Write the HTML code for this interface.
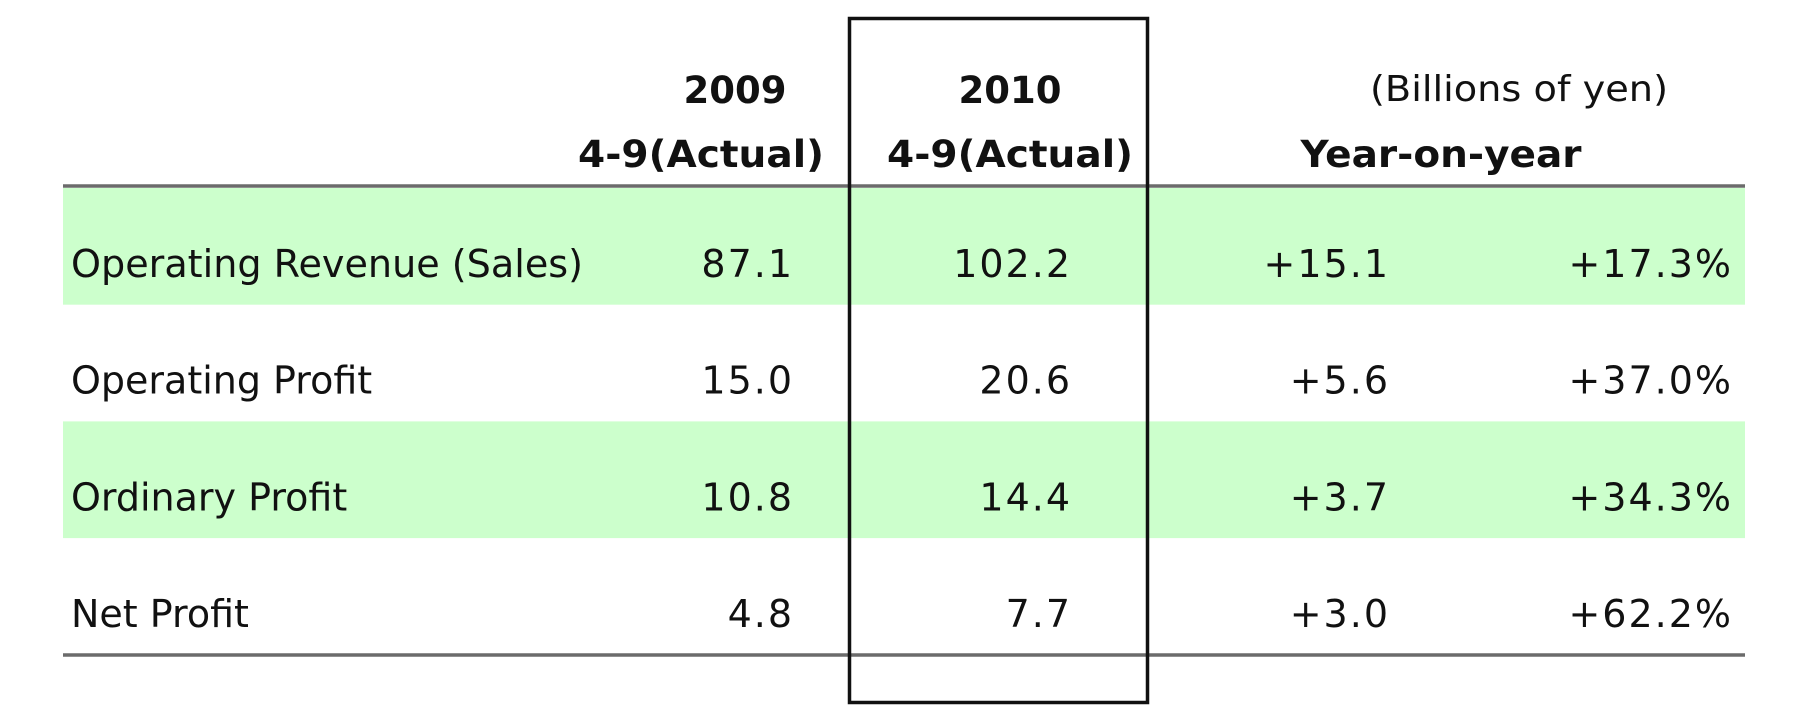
<!DOCTYPE html>
<html><head><meta charset="utf-8"><style>
html,body{margin:0;padding:0;background:#fff;}
svg{display:block;font-family:"DejaVu Sans","Liberation Sans",sans-serif;}
.num{letter-spacing:2px;}
</style></head><body>
<svg width="1800" height="723" viewBox="0 0 1800 723">
<g id="bands"></g>
<line x1="63" y1="186" x2="1745" y2="186" stroke="#6b6b6b" stroke-width="3.5"/>
<line x1="63" y1="655" x2="1745" y2="655" stroke="#6b6b6b" stroke-width="3.5"/>
<rect x="849.5" y="18.5" width="298" height="684" fill="none" stroke="#111" stroke-width="3.5"/>
<g font-weight="bold" font-size="37" fill="#111">
<text x="735" y="103" text-anchor="middle">2009</text>
<text x="824" y="167" text-anchor="end" textLength="246" lengthAdjust="spacingAndGlyphs">4-9(Actual)</text>
<text x="1010" y="103" text-anchor="middle">2010</text>
<text x="1010" y="167" text-anchor="middle" textLength="246" lengthAdjust="spacingAndGlyphs">4-9(Actual)</text>
<text x="1441" y="167" text-anchor="middle" textLength="281" lengthAdjust="spacingAndGlyphs">Year-on-year</text>
</g>
<text x="1519" y="101" text-anchor="middle" font-size="36" fill="#111" textLength="298" lengthAdjust="spacingAndGlyphs">(Billions of yen)</text>
<g id="rows" font-size="38" fill="#111"></g>
</svg>
<script>
const labels=["Operating Revenue (Sales)","Operating Profit","Ordinary Profit","Net Profit"];
const v2009=["87.1","15.0","10.8","4.8"];
const v2010=["102.2","20.6","14.4","7.7"];
const diff=["+15.1","+5.6","+3.7","+3.0"];
const pct=["+17.3%","+37.0%","+34.3%","+62.2%"];
const NS="http://www.w3.org/2000/svg";
const bands=document.getElementById('bands'),rows=document.getElementById('rows');
const top0=188,rowH=116.7;
function t(x,y,s,anchor,name,cls){const e=document.createElementNS(NS,'text');e.setAttribute('x',x);e.setAttribute('y',y);e.setAttribute('text-anchor',anchor);e.textContent=s;
if(cls)e.setAttribute('class',cls);


rows.appendChild(e);return e;}
labels.forEach((l,i)=>{
 const y0=top0+i*rowH;
 if(i%2===0){const r=document.createElementNS(NS,'rect');r.setAttribute('x',63);r.setAttribute('y',y0);r.setAttribute('width',1682);r.setAttribute('height',rowH);r.setAttribute('fill','#ccffcc');
 
 
 bands.appendChild(r);}
 const by=y0+89;
 const lab=t(71,by,l,'start','row-label');
 if(i===0){lab.setAttribute('textLength','512');lab.setAttribute('lengthAdjust','spacingAndGlyphs');}
 t(794,by,v2009[i],'end','value-2009','num');
 t(1072,by,v2010[i],'end','value-2010','num');
 t(1390,by,diff[i],'end','yoy-change','num');
 t(1733,by,pct[i],'end','yoy-percent','num');
});
</script>
</body></html>
